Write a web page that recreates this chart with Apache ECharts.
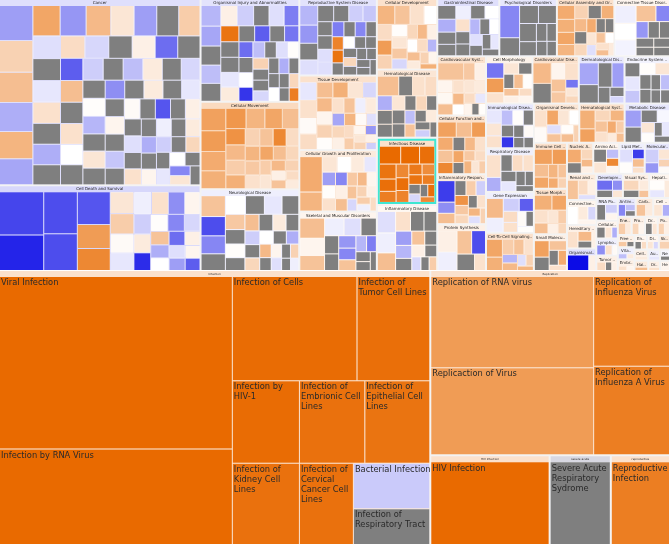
<!DOCTYPE html>
<html><head><meta charset="utf-8">
<script src="https://cdn.jsdelivr.net/npm/echarts@6.0.0/dist/echarts.min.js"></script>
<style>html,body{margin:0;padding:0;background:#fff}#c{width:669px;height:544px}</style>
</head><body><div id="c"></div>
<script>
// ---------- DATA ----------
const topCategories = ['Cancer','Cell Death and Survival','Organismal Injury and Abnormalities','Cellular Movement','Neurological Disease','Reproductive System Disease','Tissue Development','Cellular Growth and Proliferation','Skeletal and Muscular Disorders','Cellular Development','Hematological Disease','Infectious Disease','Inflammatory Disease','Gastrointestinal Disease','Psychological Disorders','Cellular Assembly and Organization','Connective Tissue Disorders','Cardiovascular System Development and Function','Cellular Function and Maintenance','Inflammatory Response','Protein Synthesis','Cell Morphology','Cardiovascular Disease','Dermatological Diseases and Conditions','Endocrine System Disorders','Immunological Disease','Respiratory Disease','Gene Expression','Cell-To-Cell Signaling and Interaction','Metabolic Disease','Hematological System Development and Function','Organismal Development','Immune Cell Trafficking','Tissue Morphology','Small Molecule Biochemistry','Nucleic Acid Metabolism','Amino Acid Metabolism','Lipid Metabolism','Molecular Transport','Renal and Urological Disease','Connective Tissue Development and Function','Hereditary Disorder','Organismal Survival','Developmental Disorder','Visual System Development and Function','Hepatic System Disease','RNA Post-Transcriptional Modification','Cellular Compromise','Lymphoid Tissue Structure and Development','Antimicrobial Response','Tumor Morphology','Carbohydrate Metabolism','Cell Cycle','Energy Production','Protein Trafficking','Drug Metabolism','Post-Translational Modification','Vitamin and Mineral Metabolism','Free Radical Scavenging','Embryonic Development','Endocrine System Development and Function','Digestive System Development and Function','Skeletal and Muscular System Development and Function','Cell Signaling','Hair and Skin Development and Function','Auditory and Vestibular System Development and Function','Organ Morphology','Nervous System Development and Function','Hepatic System Development and Function'];
const topValues = [37000,17000,10000,8500,7960,5850,5700,4700,4540,4200,4050,4000,3930,3500,3250,3240,3140,2840,2820,2400,2250,2165,2160,2130,2120,2110,2060,1930,1800,1750,1750,1750,1500,1480,1200,800,790,780,770,760,720,680,650,640,630,500,480,380,360,330,330,320,310,250,240,230,220,200,200,190,180,170,160,150,140,130,120,110,100];
const topZ = [-0.4,-0.5,-0.35,0.75,-0.2,-0.35,0.6,0.4,0.2,0.6,0.5,0.6,0.15,-0.4,-0.3,0.6,0.2,0.6,0.6,0.4,0.3,0.25,0.6,-0.3,-0.15,-0.3,-0.2,-0.2,0.6,-0.3,0.6,0.5,0.6,0.6,0.3,0.5,0.2,-0.2,-0.3,0.4,0.2,0.3,-0.4,-0.3,0.3,0.2,-0.2,0.2,-0.2,-0.3,0.3,0.4,0.2,0.4,0.3,0.2,0.3,-0.2,0.3,0.3,0.2,0.2,0.4,0.3,0.4,-0.2,0.3,-0.1,0.2];
const N = null;
const topLeaves = [
 [[1150,-1.2],[1050,0.9],[1000,1.3],[950,-1.0],[900,1.5],[860,-1.1],[820,1.8],[780,-1.3],[740,1.4],[700,0.5],[680,-1.2],[660,N],[640,1.0],[620,-0.4],[600,N],[590,-0.3],[580,0.6],[570,N],[560,-1.0],[550,N],[540,0.7],[530,-0.5],[520,N],[510,0.3],[500,-1.8],[495,N],[490,-2.0],[480,1.3],[470,N],[460,0.6],[450,0.0],[445,N],[440,-0.6],[430,N],[425,-0.8],[420,0.4],[410,N],[405,-0.5],[400,N],[395,0.05],[390,-0.9],[380,N],[375,0.5],[370,N],[360,-1.4],[355,N],[350,0.4],[345,N],[340,-0.3],[335,N],[330,0.2],[325,N],[320,-0.7],[315,N],[310,0.1],[305,N],[300,-2.1],[295,N],[290,0.3],[285,N],[280,-0.4],[275,N],[270,0.6],[265,N],[260,-0.2],[255,N],[250,0.4],[245,-1.0],[240,N],[235,0.2],[230,-0.6],[225,N],[220,0.8],[215,N],[210,-0.3],[205,0.0],[200,N],[195,-1.5],[190,0.5],[185,N]],
 [[2300,-2.3],[1900,-2.7],[1700,-2.2],[1500,-2.2],[1300,-2.1],[950,2.0],[880,2.4],[620,0.5],[580,1.0],[540,0.1],[500,-0.3],[480,-0.2],[460,0.6],[440,-1.4],[420,0.2],[400,-0.6],[380,0.4],[360,-2.6],[350,0.05],[340,-1.5],[320,-0.5],[300,1.2],[290,-1.0],[280,0.0],[270,-1.8],[260,0.3],[250,-0.4],[240,-1.2],[230,0.2],[220,-2.0]],
 [[520,-0.9],[500,-1.1],[480,N],[460,-0.8],[450,N],[430,0.3],[420,-0.6],[400,N],[390,-0.4],[380,-1.6],[370,2.8],[360,N],[350,N],[340,-0.3],[330,0.4],[320,N],[310,-2.0],[300,N],[290,-1.7],[280,-1.8],[270,N],[260,0.0],[250,-2.5],[245,-0.8],[240,N],[235,-0.4],[230,0.05],[225,0.9],[220,N],[215,N],[210,-0.5],[205,N],[200,-1.0],[195,N],[190,N],[185,0.0],[180,N],[175,0.8],[170,N],[165,2.6]],
 [[700,1.9],[650,2.0],[600,1.7],[560,1.6],[520,2.1],[480,1.5],[450,1.8],[420,1.3],[400,2.2],[380,1.4],[360,1.0],[340,1.6],[320,0.9],[300,1.2],[290,2.4],[280,0.7],[270,1.5],[260,1.1],[250,0.6],[240,1.8],[230,1.3],[220,0.8],[210,1.0],[200,0.5],[190,1.4],[180,0.9],[170,0.3],[160,1.2],[150,0.7],[140,0.4]],
 [[650,1.2],[600,-2.2],[560,-1.5],[520,N],[480,0.0],[450,N],[420,-0.3],[400,N],[380,1.1],[360,N],[340,0.05],[320,N],[300,1.3],[290,N],[280,0.4],[270,N],[260,-0.6],[250,N],[240,0.8],[230,0.0],[220,N],[210,-1.0],[200,1.4],[190,N],[180,0.2],[170,-0.4],[160,N],[150,0.9],[140,N],[130,-0.2]],
 [[520,-0.9],[480,-1.3],[440,N],[400,-0.4],[380,N],[360,N],[340,-0.6],[320,-0.7],[300,N],[290,N],[280,-0.4],[270,-0.4],[260,-1.6],[250,N],[240,-1.5],[230,N],[220,2.5],[210,2.8],[200,N],[195,0.0],[190,N],[185,N],[180,N],[175,0.8],[170,N],[165,N],[160,N],[155,N],[150,N],[145,N]],
 [[500,-0.3],[470,0.6],[450,0.1],[430,0.7],[410,1.3],[390,1.6],[370,0.5],[350,-0.5],[340,1.4],[330,0.2],[320,0.9],[300,0.05],[290,0.6],[280,1.2],[270,-0.2],[260,0.4],[250,-1.1],[240,0.8],[230,0.3],[220,1.5],[210,0.1],[200,-0.4],[190,0.7],[180,1.0],[170,0.2],[160,-1.3],[150,0.5],[140,0.9],[130,0.3],[120,-0.6]],
 [[1300,1.7],[700,1.5],[380,0.5],[350,0.0],[330,0.4],[310,-0.3],[290,-1.2],[280,0.05],[270,0.6],[260,-1.5],[250,0.3],[240,1.3],[230,1.1],[220,1.4],[210,0.2],[200,1.2],[190,-0.5],[180,0.9],[170,0.3],[160,1.0],[150,-0.2],[140,0.7]],
 [[700,1.3],[600,0.2],[520,1.2],[480,-0.2],[420,-0.4],[380,N],[360,N],[330,N],[300,-1.3],[280,-1.5],[260,1.2],[240,-0.9],[220,-1.6],[200,N],[180,N],[160,N]],
 [[520,1.5],[460,1.2],[420,0.6],[380,0.0],[360,0.7],[340,2.0],[320,0.9],[300,0.05],[280,0.5],[260,1.1],[250,-0.5],[240,0.8],[230,1.4],[220,0.3],[210,0.0],[200,0.7],[190,-0.9],[180,1.3],[170,0.4],[160,0.9],[150,0.2],[140,1.6]],
 [[650,1.3],[420,N],[380,0.6],[360,0.7],[340,-1.0],[320,N],[300,N],[280,0.5],[270,N],[260,N],[250,N],[240,0.8],[230,N],[220,-0.8],[210,1.2],[200,N],[190,0.4],[180,N],[170,-0.6],[160,N]],
 [[700,3.0],[620,3.0],[500,2.9],[460,2.8],[380,2.9],[340,2.6],[320,2.4],[300,2.9],[280,2.5],[260,2.7],[250,2.3],[240,2.8],[220,2.6],[200,N],[180,-0.5],[170,N],[160,2.9],[150,2.4]],
 [[560,-0.4],[520,-0.2],[460,1.3],[420,0.6],[380,N],[360,N],[330,-1.2],[300,-0.9],[280,N],[260,1.2],[240,N],[220,0.3],[200,N],[180,-0.5],[160,N],[150,1.0]],
 [[360,N],[340,-1.0],[320,N],[300,N],[290,-0.2],[280,N],[270,0.0],[260,0.6],[250,N],[240,N],[230,-0.9],[220,N],[210,0.0],[200,-0.4],[190,N],[180,N],[170,-0.3],[160,N]],
 [[750,-1.5],[420,N],[400,N],[380,N],[360,N],[280,N],[220,N],[200,N],[180,N],[160,N]],
 [[320,1.7],[300,1.6],[280,1.8],[260,1.5],[240,0.9],[230,N],[220,1.6],[210,1.4],[200,N],[190,0.8],[180,1.7],[170,N],[160,N],[150,0.5],[140,-0.4],[130,1.2],[120,0.0],[110,0.6],[100,1.3],[90,0.4]],
 [[450,-0.2],[420,0.0],[400,-0.15],[380,1.2],[260,-1.5],[240,-1.3],[220,N],[200,N],[190,N],[180,N],[170,N],[160,N]],
 [[600,1.2],[260,1.1],[250,0.3],[240,0.2],[230,0.15],[220,1.3],[200,0.6],[190,0.5],[180,0.4],[170,1.4],[160,0.0],[150,0.7],[140,-0.3],[120,0.2],[110,N],[100,0.05]],
 [[400,1.9],[330,1.3],[300,2.0],[280,1.7],[260,1.2],[240,2.4],[220,N],[200,1.4],[190,0.6],[180,1.8],[170,N],[160,1.1],[150,0.7],[140,1.5],[130,0.5],[120,1.0]],
 [[500,-2.4],[260,-1.4],[240,1.3],[220,N],[200,1.0],[190,-0.6],[180,2.2],[170,1.1],[160,0.8],[150,N],[140,0.6],[130,1.5],[120,-0.4],[110,0.9]],
 [[450,0.3],[400,-0.2],[380,1.2],[360,-2.2],[320,N],[200,0.6]],
 [[300,-1.7],[280,2.0],[200,0.6],[190,0.5],[170,N],[160,N],[150,1.3],[140,0.05],[130,1.2],[120,0.3],[110,0.7],[100,0.2]],
 [[420,1.4],[400,N],[260,0.2],[240,0.6],[200,1.2],[180,1.1],[120,-1.7],[110,0.5],[100,0.8]],
 [[450,-1.1],[380,N],[360,N],[320,-1.2],[200,N],[140,N],[100,-0.5]],
 [[230,N],[220,-0.3],[210,-0.7],[200,0.05],[190,0.5],[180,N],[170,N],[160,N],[150,-0.8],[140,N],[130,N]],
 [[220,-0.3],[210,0.5],[200,0.6],[190,-0.8],[180,0.05],[170,N],[160,N],[150,-2.5],[140,N],[130,0.1],[120,N],[110,N]],
 [[420,0.6],[260,-1.0],[240,N],[230,0.7],[220,0.6],[200,N],[190,-0.3],[170,N],[150,N],[130,N]],
 [[420,1.4],[300,-0.2],[260,-0.6],[230,-2.0],[200,0.7],[180,0.6],[160,0.1],[140,N],[120,0.05]],
 [[400,1.8],[300,1.6],[240,1.0],[220,1.2],[200,0.6],[180,-0.9],[160,1.4],[140,-0.4],[120,0.9],[100,1.5]],
 [[360,-1.2],[320,N],[260,N],[200,-0.1],[180,0.5],[160,0.05],[140,N],[130,-0.3],[120,N]],
 [[420,1.6],[300,1.9],[240,0.8],[220,1.5],[200,1.2],[180,0.6],[160,1.7],[140,1.0],[120,0.4],[100,1.3]],
 [[280,0.6],[250,0.1],[230,1.8],[210,0.5],[190,0.0],[170,-0.4],[160,1.2],[150,0.05],[140,1.3],[120,0.9]],
 [[380,1.9],[300,2.0],[250,1.3],[220,1.8],[180,1.5],[160,1.2],[140,1.7],[120,0.9]],
 [[360,1.6],[300,1.8],[240,0.6],[200,1.3],[180,0.5],[160,1.0],[140,0.3],[120,0.8]],
 [[320,1.9],[260,N],[220,1.2],[180,N],[160,1.7],[120,0.6]],
 [[260,1.7],[200,N],[160,0.8],[120,1.4],[100,0.3]],
 [[240,N],[200,0.5],[160,-0.8],[140,2.4],[120,0.2]],
 [[240,-0.4],[200,0.05],[160,-2.4],[140,1.3],[100,0.6]],
 [[260,-0.6],[200,-1.3],[160,0.5],[120,0.9],[100,0.1]],
 [[300,1.2],[200,0.7],[160,0.3],[120,-0.4]],
 [[280,0.0],[200,0.4],[160,-0.5],[120,0.2]],
 [[260,0.6],[200,1.4],[140,N],[100,0.3]],
 [[450,-3.0],[150,0.3]],
 [[220,-1.8],[160,N],[140,-1.4],[100,0.5]],
 [[220,0.8],[160,N],[140,0.4],[100,1.2]],
 [[200,0.05],[160,-0.3],[120,0.4]],
 [[200,N],[150,-0.6],[120,0.2]],
 [[150,N],[120,0.5],[100,-1.0]],
 [[150,-1.4],[120,0.6],[90,0.1]],
 [[140,-1.5],[100,-0.8],[90,N]],
 [[140,0.7],[100,N],[90,0.3]],
 [[180,1.2],[140,0.4]],
 [[170,0.5],[140,-1.0]],
 [[140,1.0],[110,0.4]],
 [[130,0.8],[110,0.2]],
 [[130,N],[100,0.5]],
 [[120,0.9],[100,0.3]],
 [[110,-0.8],[90,0.4]],
 [[110,1.1],[90,N]],
 [[100,0.6],[90,0.2]],
 [[100,N],[80,0.7]],
 [[90,0.5],[80,-0.5]],
 [[160,0.9]],[[150,0.4]],[[140,1.3]],[[130,-0.3]],[[120,0.6]],[[110,N]],[[100,0.2]]
];
const highlightedCategory = 'Infectious Disease';

const bottomGroups = ['Infection','Replication','HIV Infection','severe acute respiratory syndrome','reproductive infection'];
const bottomGroupValues = [117390,43976,10591,5429,5251];
const bottomGroupZ = [0.6,0.6,0.6,N,0.6];
const bottomChildren = [
  ['Viral Infection','Infection by RNA Virus','Infection of Cells','Infection of Tumor Cell Lines','Infection by HIV-1','Infection of Kidney Cell Lines','Infection of Embrionic Cell Lines','Infection of Epithelial Cell Lines','Infection of Cervical Cancer Cell Lines','Bacterial Infection','Infection of Respiratory Tract'],
  ['Replication of RNA virus','Replicaction of Virus','Replication of Influenza Virus','Replication of Influenza A Virus'],
  ['HIV Infection'],
  ['Severe Acute Respiratory Sydrome'],
  ['Reproductive Infection']
];
const bottomChildValues = [
  [39800,22000,12875,7519,5474,5400,5335,5302,4345,3450,2700],
  [14833,14181,6800,6720],
  [10000],[5000],[5000]
];
const bottomChildZ = [
  [3,3,2.95,2.9,2.95,2.85,2.85,2.8,2.85,-0.65,N],
  [2.0,2.0,2.6,2.6],
  [3],[N],[2.6]
];

// ---------- STYLE HELPERS ----------
function colorFor(z) {
  if (z === null || z === undefined) return '#7f7f7f';
  const t = Math.min(Math.abs(z) / 3, 1);
  const to = z >= 0 ? [233, 106, 0] : [12, 12, 230];
  const c = [0, 1, 2].map(i => Math.round(255 + (to[i] - 255) * t));
  return 'rgb(' + c.join(',') + ')';
}
function headerColor(z) { return z === null ? '#d8d8e2' : colorFor(z); }
function upperLabel(size, overflow) {
  return {show: true, height: 6, position: 'inside', fontSize: size, lineHeight: 6, color: '#222',
    fontFamily: 'DejaVu Sans', overflow: overflow, ellipsis: '..'};
}

const topData = topCategories.map((name, i) => {
  const node = {
    name: name, value: topValues[i],
    itemStyle: {borderColor: headerColor(topZ[i]), borderWidth: 0, gapWidth: 1},
    upperLabel: upperLabel(4, 'truncate'),
    children: topLeaves[i].map((p, j) => ({
      name: name + ' ' + (j + 1), value: p[0],
      itemStyle: {color: colorFor(p[1]), borderWidth: 0}
    }))
  };
  if (name === highlightedCategory) {
    return {name: name + ' selection', value: topValues[i],
      itemStyle: {borderColor: '#3ee6d2', borderWidth: 2, gapWidth: 0},
      upperLabel: {show: false}, children: [node]};
  }
  return node;
});

const bottomData = bottomGroups.map((name, i) => ({
  name: name, value: bottomGroupValues[i],
  itemStyle: {borderColor: headerColor(bottomGroupZ[i]), borderWidth: 0, gapWidth: 1},
  upperLabel: upperLabel(2.8, 'none'),
  children: bottomChildren[i].map((c, j) => ({
    name: c, value: bottomChildValues[i][j],
    itemStyle: {color: colorFor(bottomChildZ[i][j]), borderWidth: 0}
  }))
}));

const LABEL_FONT = 8.3;
const common = {type: 'treemap', roam: false, nodeClick: false, breadcrumb: {show: false},
  drillDownIcon: '', visibleMin: 1, animation: false, sort: 'desc',
  levels: [{itemStyle: {borderWidth: 0, gapWidth: 2, borderColor: '#f3f3f3'}}]};

const chart = echarts.init(document.getElementById('c'), null, {renderer: 'canvas'});
chart.setOption({
  animation: false,
  series: [
    Object.assign({}, common, {
      left: 0, top: 0, width: 669, height: 270, squareRatio: 1.12,
      label: {show: false}, data: topData
    }),
    Object.assign({}, common, {
      left: 0, top: 271, width: 669, height: 273, squareRatio: 1.19,
      label: {show: true, position: 'insideTopLeft', fontFamily: 'DejaVu Sans', fontSize: LABEL_FONT,
        lineHeight: 10, color: '#2a2a2a', padding: [1, 0, 0, 1], overflow: 'none'},
      data: bottomData
    })
  ]
});

// word-wrap the big cell labels to the width the library gave each cell
const cellWidth = {};
try {
  const sData = chart.getModel().getSeriesByIndex(1).getData();
  for (let i = 0; i < sData.count(); i++) {
    const l = sData.getItemLayout(i);
    if (l) cellWidth[sData.getName(i)] = l.width;
  }
} catch (e) {}
const measureCtx = document.createElement('canvas').getContext('2d');
measureCtx.font = LABEL_FONT + 'px "DejaVu Sans"';
function wrapLabel(text, maxW) {
  if (!maxW) return text;
  const words = text.split(' ');
  const lines = [];
  let cur = '';
  words.forEach(w => {
    const t = cur ? cur + ' ' + w : w;
    if (cur && measureCtx.measureText(t).width > maxW) { lines.push(cur); cur = w; }
    else cur = t;
  });
  if (cur) lines.push(cur);
  return lines.join('\n');
}
chart.setOption({series: [{}, {label: {formatter: p => wrapLabel(p.name, (cellWidth[p.name] || 0) + 1)}}]});
</script></body></html>
